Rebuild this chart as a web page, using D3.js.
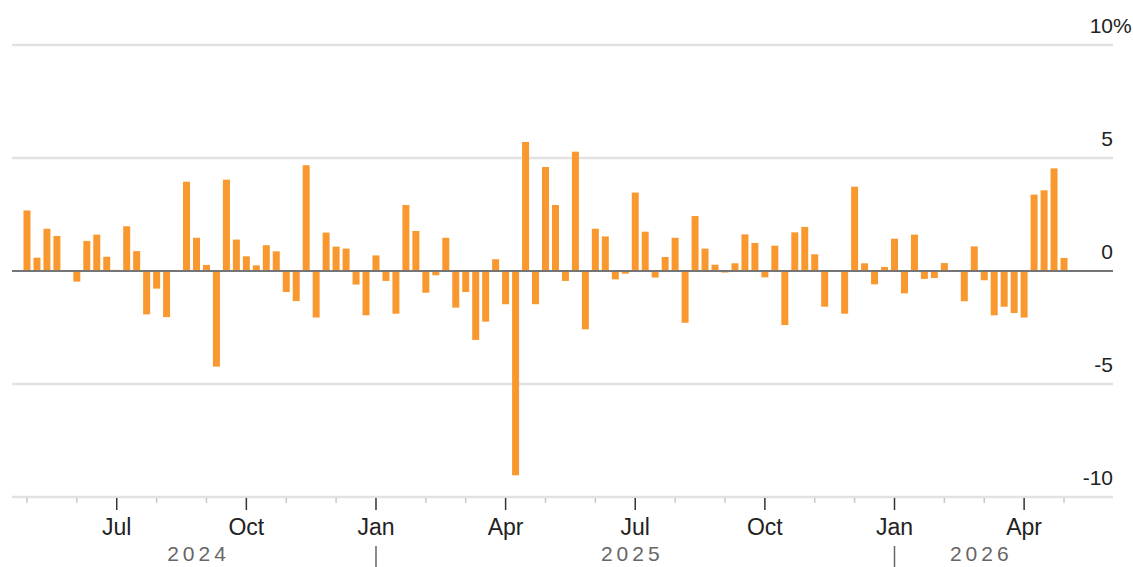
<!DOCTYPE html>
<html>
<head>
<meta charset="utf-8">
<script src="https://cdn.jsdelivr.net/npm/d3@7"></script>
<style>
    body { margin: 0; background: #fff; }
    svg { display: block; font-family: "Liberation Sans", Arial, sans-serif; }
</style>
</head>
<body>
<div id="chart"></div>
<script>
// weekly % change, one bar per Friday starting 2024-05-03
const firstWeek = new Date(Date.UTC(2024, 4, 3));
const weeklyChange = [
    2.68, 0.59, 1.87, 1.55, 0.0, -0.47, 1.33, 1.61, 0.63, 0.05,
    1.98, 0.88, -1.92, -0.78, -2.04, -0.03, 3.95, 1.47, 0.27, -4.23,
    4.04, 1.39, 0.65, 0.25, 1.14, 0.87, -0.93, -1.33, 4.68, -2.06,
    1.70, 1.08, 0.99, -0.60, -1.96, 0.69, -0.44, -1.89, 2.92, 1.77,
    -0.96, -0.19, 1.47, -1.62, -0.93, -3.05, -2.24, 0.52, -1.47, -9.04,
    5.71, -1.47, 4.60, 2.92, -0.44, 5.28, -2.58, 1.87, 1.53, -0.37,
    -0.12, 3.47, 1.74, -0.29, 0.62, 1.47, -2.29, 2.43, 0.99, 0.28,
    -0.07, 0.34, 1.62, 1.24, -0.28, 1.12, -2.39, 1.71, 1.95, 0.74,
    -1.58, -0.02, -1.89, 3.73, 0.34, -0.59, 0.18, 1.43, -0.99, 1.61,
    -0.35, -0.31, 0.35, -0.04, -1.34, 1.09, -0.41, -1.96, -1.58, -1.86,
    -2.06, 3.38, 3.57, 4.54, 0.58
];
const yTicks = [10, 5, 0, -5, -10];
const monthNames = ["Jan", "", "", "Apr", "", "", "Jul", "", "", "Oct", "", ""];

const weeks = weeklyChange.map((v, i) => d3.utcDay.offset(firstWeek, 7 * i));
const data = weeks.map((d, i) => ({ date: d, value: weeklyChange[i], i }));

const width = 1133;
const height = 567;
const gridLeft = 12;
const gridRight = 1113;

const svg = d3.select("#chart")
    .append("svg")
    .attr("width", width)
    .attr("height", height);

const x = d3.scaleBand()
    .domain(data.map((d) => d.i))
    .range([22, 1069])
    .paddingInner(0.3)
    .paddingOuter(0.15);

const y = d3.scaleLinear()
    .domain([-10, 10])
    .range([497, 45]);

const center = (i) => x(i) + x.bandwidth() / 2;

// light gridlines
svg.append("g")
    .selectAll("line")
    .data(yTicks.filter((t) => t !== 0))
    .join("line")
    .attr("x1", gridLeft)
    .attr("x2", gridRight)
    .attr("y1", (d) => y(d))
    .attr("y2", (d) => y(d))
    .attr("stroke", "#e2e2e2")
    .attr("stroke-width", 2.5);

// y labels, the % sign hangs past the right edge
svg.append("g")
    .selectAll("text")
    .data(yTicks)
    .join("text")
    .attr("x", gridRight)
    .attr("y", (d) => y(d) - 12.5)
    .attr("text-anchor", "end")
    .attr("font-size", 21)
    .attr("fill", "#222")
    .text((d) => String(d));

svg.append("text")
    .attr("x", gridRight)
    .attr("y", y(10) - 12.5)
    .attr("font-size", 21)
    .attr("fill", "#222")
    .text("%");

// bars
svg.append("g")
    .selectAll("rect")
    .data(data)
    .join("rect")
    .attr("x", (d) => x(d.i))
    .attr("width", x.bandwidth())
    .attr("y", (d) => y(Math.max(0, d.value)))
    .attr("height", (d) => Math.abs(y(d.value) - y(0)))
    .attr("fill", "#f8982f");

// zero line
svg.append("line")
    .attr("x1", gridLeft)
    .attr("x2", gridRight)
    .attr("y1", y(0))
    .attr("y2", y(0))
    .attr("stroke", "#757575")
    .attr("stroke-width", 2);

// month ticks: first week of every month
const monthStarts = data.filter((d, k) =>
    k === 0 || d.date.getUTCMonth() !== data[k - 1].date.getUTCMonth());

const axisY = y(-10);
const ticks = svg.append("g");
ticks.selectAll("line")
    .data(monthStarts)
    .join("line")
    .attr("x1", (d) => center(d.i))
    .attr("x2", (d) => center(d.i))
    .attr("y1", axisY + 1)
    .attr("y2", (d) => axisY + (d.date.getUTCMonth() % 3 === 0 ? 13 : 6))
    .attr("stroke", (d) => (d.date.getUTCMonth() % 3 === 0 ? "#333" : "#c8c8c8"))
    .attr("stroke-width", 1.5);

ticks.selectAll("text")
    .data(monthStarts.filter((d) => d.date.getUTCMonth() % 3 === 0))
    .join("text")
    .attr("x", (d) => center(d.i))
    .attr("y", 535)
    .attr("text-anchor", "middle")
    .attr("font-size", 23)
    .attr("fill", "#222")
    .text((d) => monthNames[d.date.getUTCMonth()]);

// years
const years = d3.groups(data, (d) => d.date.getUTCFullYear());
const yearG = svg.append("g");
yearG.selectAll("text")
    .data(years)
    .join("text")
    .attr("x", ([, rows]) => (center(rows[0].i) + center(rows[rows.length - 1].i)) / 2 + 2)
    .attr("y", 561)
    .attr("text-anchor", "middle")
    .attr("font-size", 21)
    .attr("letter-spacing", 4)
    .attr("fill", "#666")
    .text(([yr]) => yr);

yearG.selectAll("line")
    .data(years.slice(1))
    .join("line")
    .attr("x1", ([, rows]) => center(rows[0].i))
    .attr("x2", ([, rows]) => center(rows[0].i))
    .attr("y1", 546)
    .attr("y2", 567)
    .attr("stroke", "#666")
    .attr("stroke-width", 1.5);
</script>
</body>
</html>
